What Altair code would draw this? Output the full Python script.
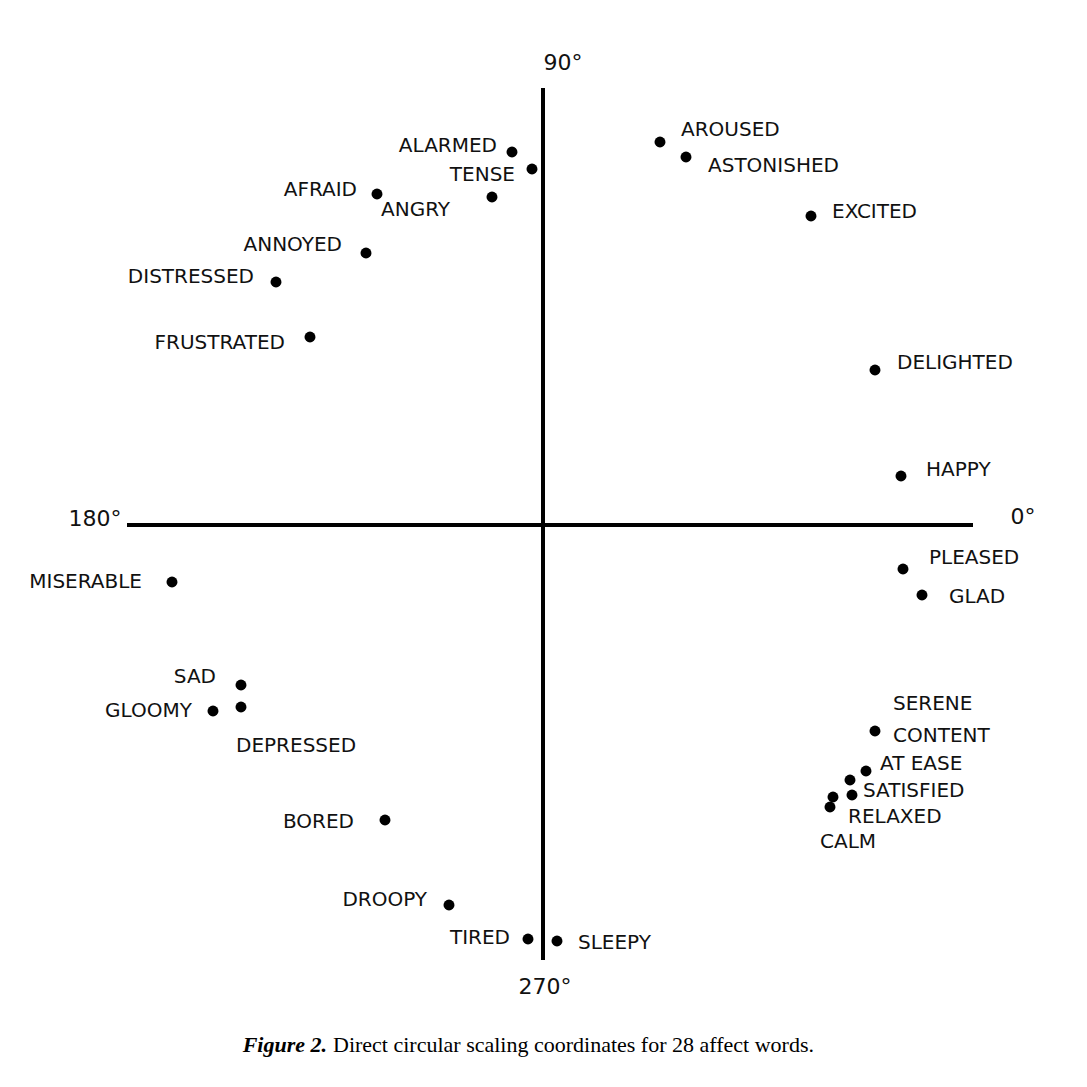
import altair as alt
import pandas as pd

# Affect words and their circular-scaling coordinates (origin at centre of the cross)
words = ["ALARMED", "TENSE", "AFRAID", "ANGRY", "ANNOYED", "DISTRESSED", "FRUSTRATED",
         "AROUSED", "ASTONISHED", "EXCITED", "DELIGHTED", "HAPPY", "PLEASED", "GLAD",
         "SERENE", "CONTENT", "AT EASE", "SATISFIED", "RELAXED", "CALM",
         "MISERABLE", "SAD", "GLOOMY", "DEPRESSED", "BORED", "DROOPY", "TIRED", "SLEEPY"]
x_vals = [-31, -11, -166, -51, -177, -267, -233,
          117, 143, 268, 332, 358, 360, 379,
          332, 323, 307, 309, 290, 287,
          -371, -302, -330, -302, -158, -94, -15, 14]
y_vals = [373, 356, 331, 328, 272, 243, 188,
          383, 368, 309, 155, 49, -44, -70,
          -206, -246, -255, -270, -272, -282,
          -57, -160, -186, -182, -295, -380, -414, -416]

# label placement: (align, dx, dy) relative to the dot
label_layout = {
    "ALARMED": ("right", -15, 6), "TENSE": ("right", -17, -6), "AFRAID": ("right", -20, 4),
    "ANGRY": ("left", -111, -13), "ANNOYED": ("right", -24, 8), "DISTRESSED": ("right", -22, 5),
    "FRUSTRATED": ("right", -25, -6), "AROUSED": ("left", 21, 12), "ASTONISHED": ("left", 22, -9),
    "EXCITED": ("left", 21, 4), "DELIGHTED": ("left", 22, 7), "HAPPY": ("left", 25, 6),
    "PLEASED": ("left", 26, 11), "GLAD": ("left", 27, -2), "SERENE": ("left", 18, 27),
    "CONTENT": ("left", 27, 35), "AT EASE": ("left", 30, 16), "SATISFIED": ("left", 11, 4),
    "RELAXED": ("left", 15, -20), "CALM": ("left", -10, -35), "MISERABLE": ("right", -30, 0),
    "SAD": ("right", -25, 8), "GLOOMY": ("right", -21, 0), "DEPRESSED": ("left", -5, -39),
    "BORED": ("right", -31, -2), "DROOPY": ("right", -22, 5), "TIRED": ("right", -18, 1),
    "SLEEPY": ("left", 21, -2),
}

df = pd.DataFrame({"word": words, "x": x_vals, "y": y_vals})
df["align"] = [label_layout[w][0] for w in words]
df["lx"] = [x + label_layout[w][1] for w, x in zip(words, x_vals)]
df["ly"] = [y + label_layout[w][2] for w, y in zip(words, y_vals)]

xs = alt.Scale(domain=[-535, 536], nice=False, zero=False)
ys = alt.Scale(domain=[-554, 517], nice=False, zero=False)
FONT = "DejaVu Sans"

base = alt.Chart(df)

dots = base.mark_circle(size=120, color="black", opacity=1).encode(
    alt.X("x:Q", scale=xs, axis=None), alt.Y("y:Q", scale=ys, axis=None)
)

labels = [
    base.transform_filter(alt.datum.align == a)
    .mark_text(align=a, baseline="middle", font=FONT, fontSize=20, color="#111")
    .encode(alt.X("lx:Q"), alt.Y("ly:Q"), text="word:N")
    for a in ["left", "right"]
]

# Cross-hair axes
axes_df = pd.DataFrame({"x": [-416, 0], "x2": [430, 0], "y": [0, 437], "y2": [0, -435]})
cross = alt.Chart(axes_df).mark_rule(strokeWidth=4, color="black").encode(
    alt.X("x:Q"), alt.X2("x2:Q"), alt.Y("y:Q"), alt.Y2("y2:Q")
)

# Degree marks
deg_df = pd.DataFrame({"t": ["90°", "180°", "0°", "270°"],
                       "x": [20, -448, 480, 2], "y": [462, 6, 8, -462]})
degrees = alt.Chart(deg_df).mark_text(font=FONT, fontSize=22, color="#111").encode(
    alt.X("x:Q"), alt.Y("y:Q"), text="t:N"
)

# Caption
cap_df = pd.DataFrame({
    "t": ["Figure 2.", "Direct circular scaling coordinates for 28 affect words."],
    "x": [-216, -210], "y": [-520, -520], "part": ["a", "b"],
})
cap_a = alt.Chart(cap_df).transform_filter(alt.datum.part == "a").mark_text(
    font="Liberation Serif", fontSize=22, fontStyle="italic", fontWeight="bold", align="right"
).encode(alt.X("x:Q"), alt.Y("y:Q"), text="t:N")
cap_b = alt.Chart(cap_df).transform_filter(alt.datum.part == "b").mark_text(
    font="Liberation Serif", fontSize=22, align="left"
).encode(alt.X("x:Q"), alt.Y("y:Q"), text="t:N")

chart = alt.layer(dots, cross, *labels, degrees, cap_a, cap_b).properties(
    width=1071, height=1071, padding=0, autosize="none", background="white"
).configure_view(stroke=None)

chart.save("out.html", embed_options={"renderer": "svg", "actions": False})
